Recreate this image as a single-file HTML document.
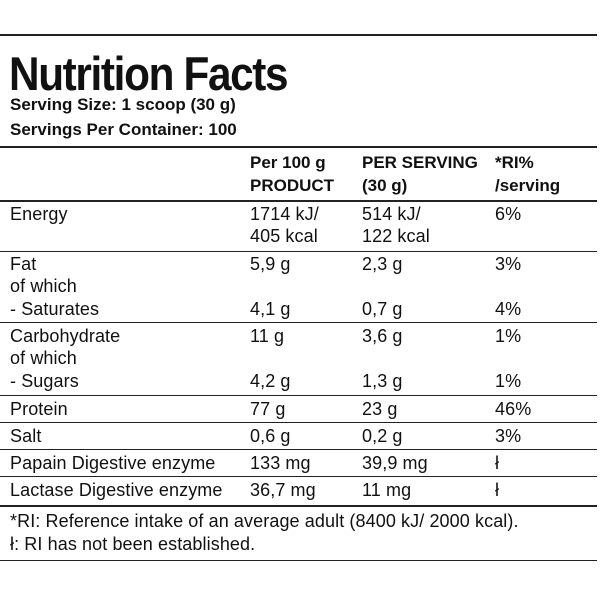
<!DOCTYPE html>
<html><head><meta charset="utf-8"><style>
body{margin:0;width:600px;height:600px;background:#fff;position:relative;overflow:hidden;font-family:"Liberation Sans",sans-serif;color:#111}
.l{position:absolute;left:0;width:597px;background:#222}
.t{position:absolute;font-size:18px;line-height:20px;white-space:nowrap;transform:translateY(-50%);letter-spacing:0.1px}
.b{font-weight:bold;font-size:17px;letter-spacing:0}
h1{position:absolute;left:9px;top:48px;margin:0;font-size:47px;line-height:52px;font-weight:bold;letter-spacing:-1.5px;transform:scaleX(0.9);transform-origin:left;white-space:nowrap}
</style></head><body>
<div class="l" style="top:34px;height:2px"></div>
<h1>Nutrition Facts</h1>
<div class="t b" style="left:10px;top:105px">Serving Size: 1 scoop (30 g)</div>
<div class="t b" style="left:10px;top:130px">Servings Per Container: 100</div>
<div class="l" style="top:146px;height:2px"></div>

<div class="t b" style="left:250px;top:163px">Per 100 g</div>
<div class="t b" style="left:250px;top:186px">PRODUCT</div>
<div class="t b" style="left:362px;top:163px">PER SERVING</div>
<div class="t b" style="left:362px;top:186px">(30 g)</div>
<div class="t b" style="left:495px;top:163px">*RI%</div>
<div class="t b" style="left:495px;top:186px">/serving</div>
<div class="l" style="top:200px;height:2px"></div>

<div class="t" style="left:10px;top:214px">Energy</div>
<div class="t" style="left:250px;top:214px">1714 kJ/</div>
<div class="t" style="left:250px;top:236px">405 kcal</div>
<div class="t" style="left:362px;top:214px">514 kJ/</div>
<div class="t" style="left:362px;top:236px">122 kcal</div>
<div class="t" style="left:495px;top:214px">6%</div>
<div class="l" style="top:251px;height:1px"></div>

<div class="t" style="left:10px;top:264px">Fat</div>
<div class="t" style="left:10px;top:286px">of which</div>
<div class="t" style="left:10px;top:309px">- Saturates</div>
<div class="t" style="left:250px;top:264px">5,9 g</div>
<div class="t" style="left:250px;top:309px">4,1 g</div>
<div class="t" style="left:362px;top:264px">2,3 g</div>
<div class="t" style="left:362px;top:309px">0,7 g</div>
<div class="t" style="left:495px;top:264px">3%</div>
<div class="t" style="left:495px;top:309px">4%</div>
<div class="l" style="top:322px;height:1px"></div>

<div class="t" style="left:10px;top:336px">Carbohydrate</div>
<div class="t" style="left:10px;top:358px">of which</div>
<div class="t" style="left:10px;top:381px">- Sugars</div>
<div class="t" style="left:250px;top:336px">11 g</div>
<div class="t" style="left:250px;top:381px">4,2 g</div>
<div class="t" style="left:362px;top:336px">3,6 g</div>
<div class="t" style="left:362px;top:381px">1,3 g</div>
<div class="t" style="left:495px;top:336px">1%</div>
<div class="t" style="left:495px;top:381px">1%</div>
<div class="l" style="top:395px;height:1px"></div>

<div class="t" style="left:10px;top:409px">Protein</div>
<div class="t" style="left:250px;top:409px">77 g</div>
<div class="t" style="left:362px;top:409px">23 g</div>
<div class="t" style="left:495px;top:409px">46%</div>
<div class="l" style="top:422px;height:1px"></div>

<div class="t" style="left:10px;top:436px">Salt</div>
<div class="t" style="left:250px;top:436px">0,6 g</div>
<div class="t" style="left:362px;top:436px">0,2 g</div>
<div class="t" style="left:495px;top:436px">3%</div>
<div class="l" style="top:449px;height:1px"></div>

<div class="t" style="left:10px;top:463px">Papain Digestive enzyme</div>
<div class="t" style="left:250px;top:463px">133 mg</div>
<div class="t" style="left:362px;top:463px">39,9 mg</div>
<div class="t" style="left:495px;top:463px">ł</div>
<div class="l" style="top:476px;height:1px"></div>

<div class="t" style="left:10px;top:490px">Lactase Digestive enzyme</div>
<div class="t" style="left:250px;top:490px">36,7 mg</div>
<div class="t" style="left:362px;top:490px">11 mg</div>
<div class="t" style="left:495px;top:490px">ł</div>
<div class="l" style="top:505px;height:2px"></div>

<div class="t" style="left:10px;top:521px">*RI: Reference intake of an average adult (8400 kJ/ 2000 kcal).</div>
<div class="t" style="left:10px;top:544px">ł: RI has not been established.</div>
<div class="l" style="top:560px;height:1px"></div>
</body></html>
